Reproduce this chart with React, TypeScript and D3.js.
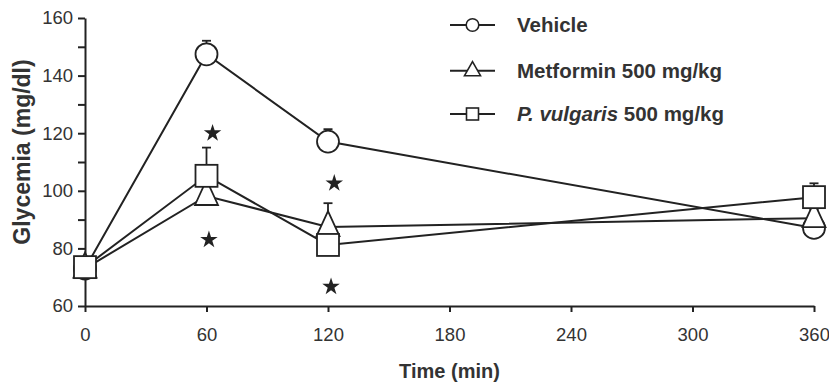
import React, { useEffect, useRef } from 'react';
import * as d3 from 'd3';

// time points (min)
const times = [0, 60, 120, 360];

// glycemia means and SEM (mg/dl)
const vehicleMean = [73, 147.4, 117.1, 87.1];
const vehicleSem = [2, 4.7, 4.3, 2];
const metforminMean = [73, 98.2, 87.4, 90.5];
const metforminSem = [2, 3, 8.3, 3];
const vulgarisMean = [73.5, 105.2, 81.2, 97.8];
const vulgarisSem = [2, 9.8, 3, 4.8];

// significance stars (time, glycemia)
const starX = [63, 61.2, 123.1, 121.5];
const starY = [120, 83, 102.6, 66.7];

const xTicks = [0, 60, 120, 180, 240, 300, 360];
const yTicks = [60, 70, 80, 90, 100, 110, 120, 130, 140, 150, 160];

const seriesNames = ['Vehicle', 'Metformin 500 mg/kg', 'P. vulgaris 500 mg/kg'];

const W = 829;
const H = 386;
const ink = '#222';
const textCol = '#333';
const FONT = 'Liberation Sans, Arial, Helvetica, sans-serif';

const App = () => {
  const svgRef = useRef<SVGSVGElement>(null);

  useEffect(() => {
    const svg = d3.select(svgRef.current);
    svg.selectAll('*').remove();

    const x = d3.scaleLinear().domain([0, 360]).range([85, 814]);
    const y = d3.scaleLinear().domain([60, 160]).range([306, 18]);

    // Y axis
    const yAxis = svg.append('g')
      .attr('transform', `translate(${x(0)},0)`)
      .call(d3.axisLeft(y)
        .tickValues(yTicks)
        .tickSize(7)
        .tickSizeOuter(0)
        .tickPadding(5)
        .tickFormat(d => (+d % 20 === 0 ? String(d) : '')));

    // X axis
    const xAxis = svg.append('g')
      .attr('transform', `translate(0,${y(60)})`)
      .call(d3.axisBottom(x)
        .tickValues(xTicks)
        .tickSize(6)
        .tickSizeOuter(0)
        .tickPadding(16));

    [xAxis, yAxis].forEach(a => {
      a.select('.domain').attr('stroke', ink).attr('stroke-width', 2);
      a.selectAll('.tick line').attr('stroke', ink).attr('stroke-width', 2);
      a.selectAll('.tick text')
        .attr('fill', textCol)
        .style('font-family', FONT)
        .style('font-size', '18.5px');
    });

    // axis titles
    svg.append('text')
      .attr('x', x(180))
      .attr('y', 378)
      .attr('text-anchor', 'middle')
      .attr('fill', textCol)
      .style('font-family', FONT)
      .style('font-weight', 'bold')
      .style('font-size', '20px')
      .text('Time (min)');

    svg.append('text')
      .attr('transform', `translate(30,${152}) rotate(-90)`)
      .attr('text-anchor', 'middle')
      .attr('fill', textCol)
      .style('font-family', FONT)
      .style('font-weight', 'bold')
      .style('font-size', '23px')
      .text('Glycemia (mg/dl)');

    const series = [
      { mean: vehicleMean, sem: vehicleSem, shape: 'circle' },
      { mean: metforminMean, sem: metforminSem, shape: 'triangle' },
      { mean: vulgarisMean, sem: vulgarisSem, shape: 'square' },
    ];

    const line = d3.line<number>()
      .x((_, i) => x(times[i]))
      .y(d => y(d));

    // connecting lines
    series.forEach(s => {
      svg.append('path')
        .datum(s.mean)
        .attr('d', line)
        .attr('fill', 'none')
        .attr('stroke', ink)
        .attr('stroke-width', 2);
    });

    const drawMarker = (g, shape, cx, cy, big) => {
      if (shape === 'circle') {
        g.append('circle')
          .attr('cx', cx).attr('cy', cy).attr('r', big ? 11 : 6.3)
          .attr('fill', '#fff').attr('stroke', ink).attr('stroke-width', big ? 1.8 : 1.6);
      } else if (shape === 'triangle') {
        const h1 = big ? 16 : 9;
        const h2 = big ? 9 : 5;
        const hw = big ? 11.5 : 8;
        g.append('path')
          .attr('d', `M${cx},${cy - h1}L${cx + hw},${cy + h2}L${cx - hw},${cy + h2}Z`)
          .attr('fill', '#fff').attr('stroke', ink).attr('stroke-width', big ? 1.8 : 1.6);
      } else {
        const s = big ? 22 : 12;
        g.append('rect')
          .attr('x', cx - s / 2).attr('y', cy - s / 2)
          .attr('width', s).attr('height', s)
          .attr('fill', '#fff').attr('stroke', ink).attr('stroke-width', big ? 1.8 : 1.6);
      }
    };

    // error bars (upper only) and markers
    series.forEach(s => {
      const g = svg.append('g');
      s.mean.forEach((m, i) => {
        const cx = x(times[i]);
        const top = y(m + s.sem[i]);
        g.append('line')
          .attr('x1', cx).attr('x2', cx)
          .attr('y1', y(m)).attr('y2', top)
          .attr('stroke', ink).attr('stroke-width', 1.8);
        g.append('line')
          .attr('x1', cx - 4.5).attr('x2', cx + 4.5)
          .attr('y1', top).attr('y2', top)
          .attr('stroke', ink).attr('stroke-width', 1.8);
      });
      s.mean.forEach((m, i) => drawMarker(g, s.shape, x(times[i]), y(m), true));
    });

    // stars
    svg.append('g')
      .selectAll('path')
      .data(starX)
      .enter()
      .append('path')
      .attr('transform', (d, i) => `translate(${x(d)},${y(starY[i])})`)
      .attr('d', d3.symbol().type(d3.symbolStar).size(95))
      .attr('fill', ink);

    // legend
    const legendY = [25, 70.7, 114];
    series.forEach((s, i) => {
      const g = svg.append('g');
      g.append('line')
        .attr('x1', 450).attr('x2', 495)
        .attr('y1', legendY[i]).attr('y2', legendY[i])
        .attr('stroke', ink).attr('stroke-width', 2);
      drawMarker(g, s.shape, 472.5, legendY[i], false);
      const t = g.append('text')
        .attr('x', 517)
        .attr('y', legendY[i] + 7)
        .attr('fill', textCol)
        .style('font-family', FONT)
        .style('font-weight', 'bold')
        .style('font-size', '20.5px');
      if (i === 2) {
        t.append('tspan').style('font-style', 'italic').text('P. vulgaris');
        t.append('tspan').text(' 500 mg/kg');
      } else {
        t.text(seriesNames[i]);
      }
    });
  }, []);

  return (
    <svg
      ref={svgRef}
      width={W}
      height={H}
      style={{ position: 'absolute', left: 0, top: 0, background: '#fff' }}
    />
  );
};

export default App;
